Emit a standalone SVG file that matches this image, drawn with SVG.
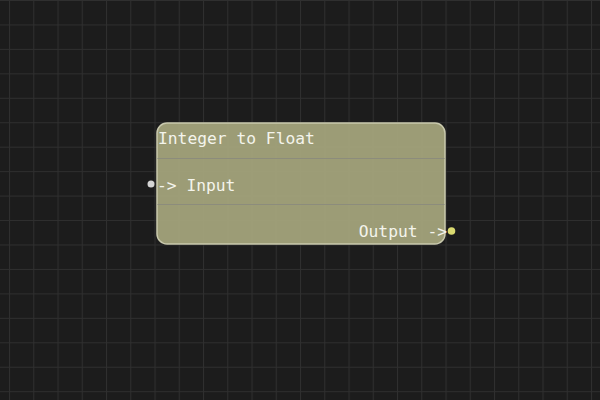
<svg xmlns="http://www.w3.org/2000/svg" width="600" height="400" viewBox="0 0 600 400">
  <defs>
    <pattern id="grid" x="9" y="0" width="24.25" height="24.45" patternUnits="userSpaceOnUse">
      <path d="M0.5 0 V24.45 M0 0.5 H24.25" stroke="#2f2f2f" stroke-width="1" fill="none"/>
    </pattern>
  </defs>
  <style>
    .lbl { font-family: "DejaVu Sans Mono", "Liberation Mono", monospace; font-size: 16.3px; fill: #f4f4ec; }
    .sep { stroke: #8c8c7c; stroke-width: 1; }
  </style>
  <rect width="600" height="400" fill="#1c1c1c"/>
  <rect width="600" height="400" fill="url(#grid)"/>
  <g id="node-integer-to-float">
    <rect x="157" y="123" width="288" height="121" rx="10" ry="10" fill="#a5a57c" fill-opacity="0.94" stroke="#c9c9ad" stroke-width="1.5"/>
    <line class="sep" x1="157.5" y1="158.5" x2="444.5" y2="158.5"/>
    <line class="sep" x1="157.5" y1="204.5" x2="444.5" y2="204.5"/>
    <text class="lbl" x="158" y="144">Integer to Float</text>
    <text class="lbl" x="157" y="190.5">-&gt; Input</text>
    <text class="lbl" x="447" y="236.5" text-anchor="end">Output -&gt;</text>
    <circle cx="151" cy="184" r="3.5" fill="#d4d4d4"/>
    <circle cx="451.5" cy="231" r="3.8" fill="#dada70"/>
  </g>
  <g id="connectors"></g>
</svg>
